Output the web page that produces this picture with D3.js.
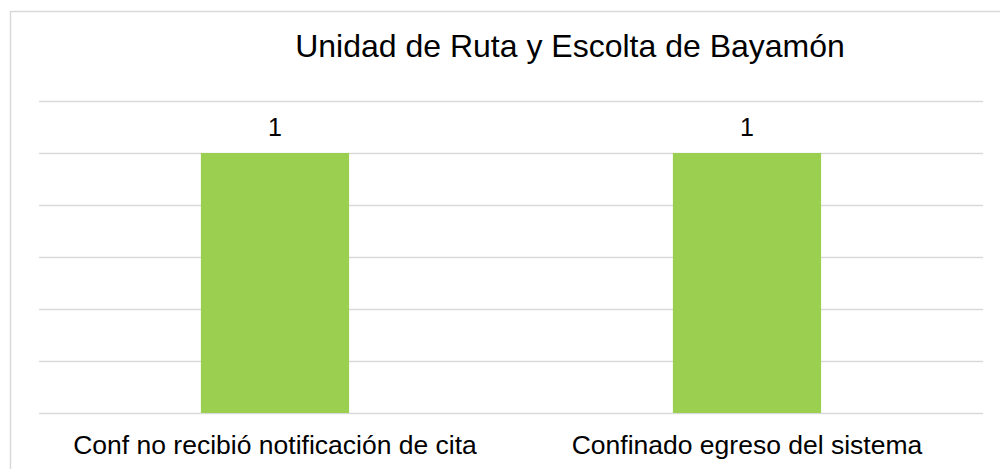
<!DOCTYPE html>
<html><head><meta charset="utf-8">
<script src="https://cdn.jsdelivr.net/npm/d3@7"></script>
<style>body{margin:0;background:#fff}svg{display:block}text{font-family:"Liberation Sans",Arial,sans-serif;fill:#000}</style>
</head><body>
<svg id="c" width="1000" height="469"></svg>
<script>
const title = "Unidad de Ruta y Escolta de Bayamón";
const categories = ["Conf no recibió notificación de cita", "Confinado egreso del sistema"];
const values = [1, 1];
const yTicks = [0, 0.2, 0.4, 0.6, 0.8, 1, 1.2];

const svg = d3.select("#c");
svg.append("rect").attr("x",10.5).attr("y",11.5).attr("width",1000).attr("height",470)
  .attr("fill","#fff").attr("stroke","#d9d9d9").attr("stroke-width",1.5);

const x = d3.scaleBand().domain(categories).range([39, 983]).paddingInner(0.686).paddingOuter(0.343);
const y = d3.scaleLinear().domain([0, 1.2]).range([413, 101]);

svg.append("g").selectAll("line").data(yTicks).join("line")
  .attr("x1",39).attr("x2",983).attr("y1",d=>Math.round(y(d))+0.5).attr("y2",d=>Math.round(y(d))+0.5)
  .attr("stroke","#d9d9d9").attr("stroke-width",1.5);

svg.append("g").selectAll("rect").data(values).join("rect")
  .attr("x",(d,i)=>x(categories[i])).attr("width",x.bandwidth())
  .attr("y",d=>y(d)).attr("height",d=>y(0)-y(d)).attr("fill","#9BCF50");

svg.append("g").selectAll("text").data(values).join("text")
  .attr("x",(d,i)=>x(categories[i])+x.bandwidth()/2).attr("y",d=>y(d)-17)
  .attr("text-anchor","middle").attr("font-size",25).text(d=>d);

svg.append("g").selectAll("text").data(categories).join("text")
  .attr("x",d=>x(d)+x.bandwidth()/2).attr("y",454)
  .attr("text-anchor","middle").attr("font-size",26.5).text(d=>d);

svg.append("text").attr("x",570).attr("y",57).attr("text-anchor","middle")
  .attr("font-size",32).text(title);
</script>
</body></html>
